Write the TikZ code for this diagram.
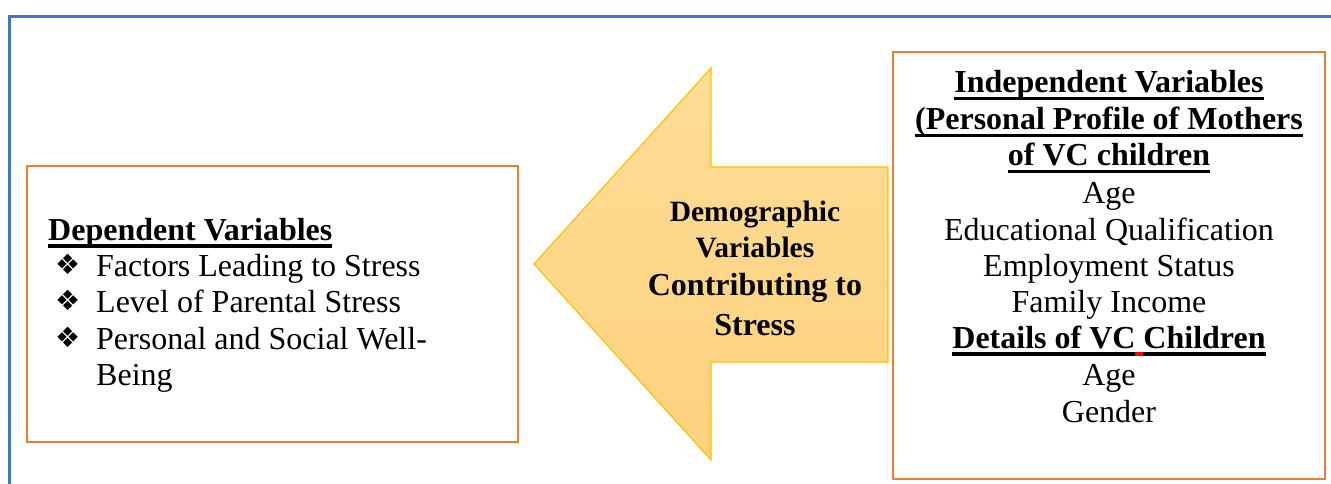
\documentclass[tikz,border=0pt]{standalone}
\usepackage{fontspec}
\setmainfont{Liberation Serif}
\newfontfamily\symfont{DejaVu Sans}

\definecolor{frameblue}{HTML}{4472C4}
\definecolor{boxorange}{HTML}{ED7D31}
\definecolor{arrowtop}{HTML}{FFDC96}
\definecolor{arrowbottom}{HTML}{FDD27E}
\definecolor{arrowedge}{HTML}{FFC000}

% bold heading with a heavy underline set just below the baseline
\newsavebox\ulbox
\newcommand\ulhead[1]{\sbox\ulbox{#1}\rlap{\rule[-7.5pt]{\wd\ulbox}{3.2pt}}\usebox\ulbox}
\newcommand\redgap{\textcolor{red}{\rule[-7.5pt]{8pt}{3.2pt}}}

\tikzset{
  frame/.style={draw=frameblue, line width=3pt},
  obox/.style={draw=boxorange, line width=2.6pt, rectangle, inner sep=0pt},
  big/.style={font=\fontsize{32}{36.6}\selectfont},
  bigbf/.style={font=\fontsize{32}{36.6}\selectfont\bfseries},
  mid/.style={font=\fontsize{29.5}{36}\selectfont\bfseries},
  line/.style={inner sep=0pt, anchor=base},
  lline/.style={inner sep=0pt, anchor=base west},
  bul/.style={inner sep=0pt, anchor=base west, font=\fontsize{28}{30}\selectfont\symfont},
  arrowshape/.style={draw=arrowedge, line width=1.2pt, top color=arrowtop, bottom color=arrowbottom, line join=miter}
}

\begin{document}
\begin{tikzpicture}[x=1pt, y=-1pt]
\useasboundingbox (0,0) rectangle (1331,484);

% outer frame (open to the right and bottom)
\draw[frame] (9,490) -- (9,17) -- (1340,17);

% boxes
\node[obox, minimum width=491, minimum height=276] (dep) at (272.5,304) {};
\node[obox, minimum width=432, minimum height=427] (ind) at (1109,265.5) {};

% big left arrow
\draw[arrowshape] (534,264) -- (711,68) -- (711,167) -- (888,167) -- (888,362)
  -- (711,362) -- (711,460) -- cycle;
\node[line, mid] (a1) at (755,221) {Demographic};
\node[line, mid] (a2) at (755,257) {Variables};
\node[line, bigbf] (a3) at (755,295) {Contributing to};
\node[line, bigbf] (a4) at (755,335) {Stress};

% dependent variables
\node[lline, bigbf] (d0) at (48,240) {\ulhead{Dependent Variables}};
\node[bul] (b1) at (55,274) {❖};
\node[bul] (b2) at (55,310) {❖};
\node[bul] (b3) at (55,347) {❖};
\node[lline, big] (d1) at (96,276) {Factors Leading to Stress};
\node[lline, big] (d2) at (96,312) {Level of Parental Stress};
\node[lline, big] (d3) at (96,349) {Personal and Social Well-};
\node[lline, big] (d4) at (96,385) {Being};

% independent variables
\node[line, bigbf] (i1) at (1109,93) {\ulhead{Independent Variables}};
\node[line, bigbf] (i2) at (1109,130) {\ulhead{(Personal Profile of Mothers}};
\node[line, bigbf] (i3) at (1109,166) {\ulhead{of VC children}};
\node[line, big] (i4) at (1109,203) {Age};
\node[line, big] (i5) at (1109,240) {Educational Qualification};
\node[line, big] (i6) at (1109,276) {Employment Status};
\node[line, big] (i7) at (1109,312) {Family Income};
\node[line, bigbf] (i8) at (1109,348) {\ulhead{Details of VC}\redgap\ulhead{Children}};
\node[line, big] (i9) at (1109,385) {Age};
\node[line, big] (i10) at (1109,422) {Gender};
\end{tikzpicture}
\end{document}
